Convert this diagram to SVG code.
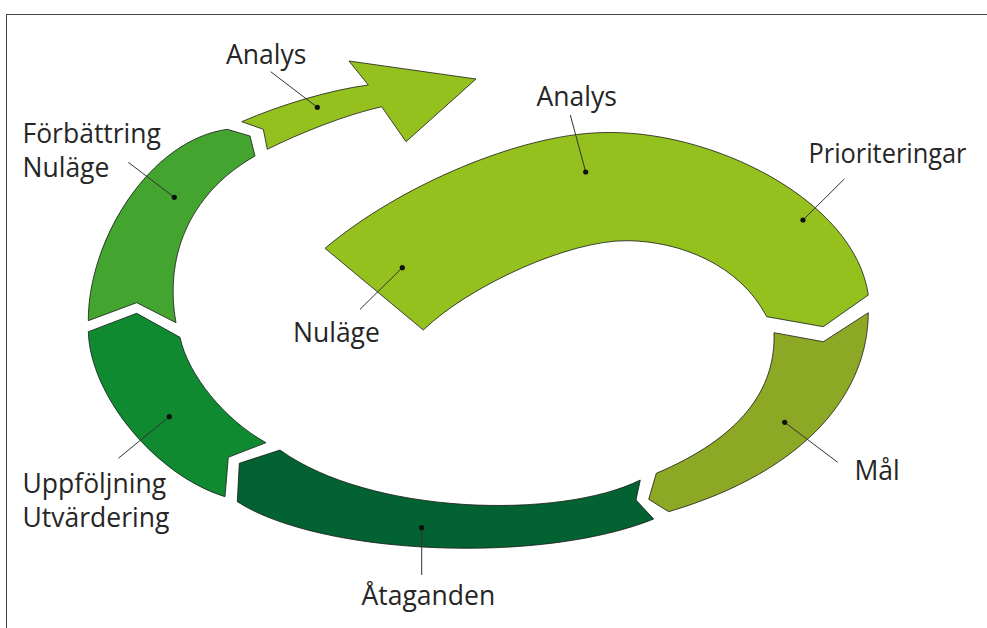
<svg xmlns="http://www.w3.org/2000/svg" width="987" height="628" viewBox="0 0 987 628">
<style>
.seg{stroke:#1a1a1a;stroke-width:0.8;stroke-linejoin:miter}
.lead{stroke:#333;stroke-width:1;fill:none}
.dot{fill:#111}
.lbl{font-family:"Open Sans","Noto Sans","Liberation Sans",sans-serif;font-size:26.5px;fill:#262626}
</style>
<rect x="6.5" y="14.5" width="1000" height="700" fill="#fff" stroke="#444" stroke-width="1"/>
<g id="analys-main">
<path class="seg" fill="#95c11f" d="M325,248.3 C400,185 520,135 600,132.7 C710,128 855,200 868.3,295 L823.3,326.7 L766.7,316.7 C740,265 680,241 627,240.7 C570,240 470,285 423.3,330 Z"/>
</g>
<g id="mal">
<path class="seg" fill="#8ca824" d="M868.3,312.7 C868,390 810,470 668.7,511.7 L648.7,499.3 L656.3,473.3 C740,438 776,390 774,332.7 L823.3,341.7 Z"/>
</g>
<g id="ataganden">
<path class="seg" fill="#036231" d="M640.3,480 C560,520 370,515 280,450 L239.3,463.3 L237.3,501.7 C320,555 540,565 653.7,519 L636,500 Z"/>
</g>
<g id="uppfoljning">
<path class="seg" fill="#0f8a30" d="M88.3,331.7 L136.7,313.3 L180,337.3 C188,375 225,420 266,442.7 L228.3,457.3 L225,496.7 C155,475 90,395 88.3,331.7 Z"/>
</g>
<g id="forbattring">
<path class="seg" fill="#43a42f" d="M227.3,129.3 L250,136 L255,156 C195,190 163,250 176,322.7 L136.7,302.7 L88.3,320.7 C88,240 150,140 227.3,129.3 Z"/>
</g>
<g id="analys-arrow">
<path class="seg" fill="#95c11f" d="M241.7,121.7 C280,105 330,90 368.3,85 L349,61 L476,79 L406,141.7 L381.7,106.7 C345,115 300,133 267.3,149.3 L263.3,129.3 Z"/>
</g>
<g id="connectors">
<line class="lead" x1="270.7" y1="71.7" x2="317.3" y2="107.3"/>
<circle class="dot" cx="317.3" cy="107.3" r="2.6"/>
<line class="lead" x1="128.3" y1="162.3" x2="174.3" y2="197.3"/>
<circle class="dot" cx="174.3" cy="197.3" r="2.6"/>
<line class="lead" x1="570.3" y1="115" x2="585.7" y2="172"/>
<circle class="dot" cx="585.7" cy="172" r="2.6"/>
<line class="lead" x1="844.3" y1="179" x2="803" y2="220"/>
<circle class="dot" cx="803" cy="220" r="2.6"/>
<line class="lead" x1="360" y1="309.3" x2="402.3" y2="267.7"/>
<circle class="dot" cx="402.3" cy="267.7" r="2.6"/>
<line class="lead" x1="118.3" y1="458.3" x2="169.3" y2="416.7"/>
<circle class="dot" cx="169.3" cy="416.7" r="2.6"/>
<line class="lead" x1="421.7" y1="575" x2="421.7" y2="527.7"/>
<circle class="dot" cx="421.7" cy="527.7" r="2.6"/>
<line class="lead" x1="837.7" y1="462.3" x2="784.7" y2="422.3"/>
<circle class="dot" cx="784.7" cy="422.3" r="2.6"/>
</g>
<g id="labels">
<text class="lbl" x="226" y="64">Analys</text>
<text class="lbl" x="22.5" y="143.3">Förbättring</text>
<text class="lbl" x="22.5" y="176.7">Nuläge</text>
<text class="lbl" x="536.5" y="106">Analys</text>
<text class="lbl" x="808.5" y="162.7" textLength="158" lengthAdjust="spacingAndGlyphs">Prioriteringar</text>
<text class="lbl" x="293" y="341.7">Nuläge</text>
<text class="lbl" x="22.5" y="492.7">Uppföljning</text>
<text class="lbl" x="22.5" y="526.7">Utvärdering</text>
<text class="lbl" x="361.5" y="605">Åtaganden</text>
<text class="lbl" x="854.5" y="480">Mål</text>
</g>
</svg>
